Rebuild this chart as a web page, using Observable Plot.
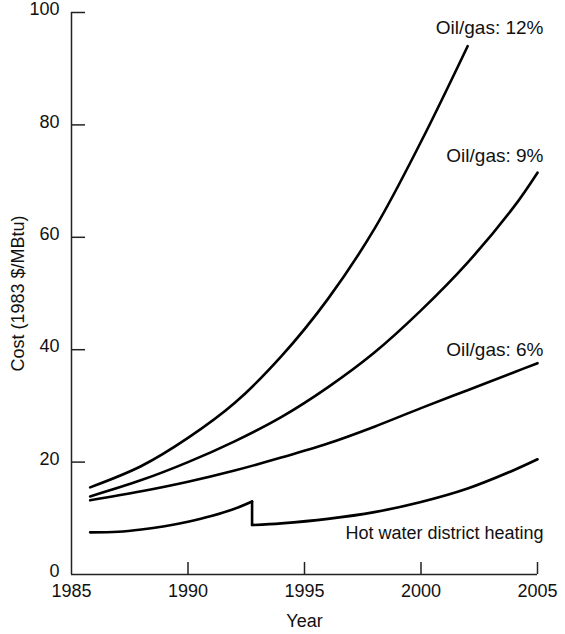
<!DOCTYPE html>
<html>
<head>
<meta charset="utf-8">
<script src="https://cdn.jsdelivr.net/npm/d3@7"></script>
<script src="https://cdn.jsdelivr.net/npm/@observablehq/plot@0.6"></script>
<style>
  html, body { margin: 0; padding: 0; background: #fff; }
  #chart svg { display: block; }
</style>
</head>
<body>
<div id="chart"></div>
<script>
// ---- Data ----
const oil12Years = [1985.8, 1988, 1990, 1992, 1994, 1996, 1998, 2000, 2002];
const oil12Cost  = [15.5, 19.3, 24.3, 30.5, 38.8, 49, 61.5, 77, 94];

const oil9Years = [1985.8, 1988, 1990, 1992, 1994, 1996, 1998, 2000, 2002, 2004, 2005];
const oil9Cost  = [13.9, 16.8, 20.0, 23.7, 28.0, 33.3, 39.5, 47.0, 55.5, 65.5, 71.5];

const oil6Years = [1985.8, 1988, 1990, 1992, 1994, 1996, 1998, 2000, 2002, 2004, 2005];
const oil6Cost  = [13.2, 14.8, 16.5, 18.5, 20.8, 23.3, 26.3, 29.6, 32.8, 36.0, 37.6];

// Hot water district heating: rises, then drops abruptly late 1992
const hwPreYears  = [1985.8, 1987, 1988, 1989, 1990, 1991, 1992, 1992.75];
const hwPreCost   = [7.5, 7.6, 8.0, 8.6, 9.4, 10.4, 11.7, 13.0];
const hwDropYears = [1992.75, 1992.75];
const hwDropCost  = [13.0, 8.8];
const hwPostYears = [1992.75, 1994, 1996, 1998, 2000, 2002, 2004, 2005];
const hwPostCost  = [8.8, 9.1, 9.9, 11.1, 12.9, 15.3, 18.6, 20.5];

const labelNames = ["Oil/gas: 12%", "Oil/gas: 9%", "Oil/gas: 6%", "Hot water district heating"];
const labelYears = [2005, 2005, 2005, 2005];
const labelCost  = [97.2, 74.4, 40.0, 7.3];
const labelSizes = [19, 19, 19, 18];

const xTicks = [1985, 1990, 1995, 2000, 2005];
const yTicks = [0, 20, 40, 60, 80, 100];

// ---- Build tables ----
function rows(name, xs, ys) { return xs.map((x, i) => ({series: name, year: x, cost: ys[i]})); }
const lines = [
  ...rows("oil12", oil12Years, oil12Cost),
  ...rows("oil9", oil9Years, oil9Cost),
  ...rows("oil6", oil6Years, oil6Cost),
  ...rows("hwPre", hwPreYears, hwPreCost),
  ...rows("hwDrop", hwDropYears, hwDropCost),
  ...rows("hwPost", hwPostYears, hwPostCost)
];
const labels = labelNames.map((t, i) => ({text: t, year: labelYears[i], cost: labelCost[i], size: labelSizes[i]}));

const font = "'Liberation Sans', Arial, Helvetica, sans-serif";

const chart = Plot.plot({
  width: 565,
  height: 634,
  marginLeft: 71,
  marginRight: 28,
  marginTop: 12,
  marginBottom: 60,
  style: {fontFamily: font, fontSize: "18px", color: "#111", background: "#fff"},
  x: {domain: [1985, 2005]},
  y: {domain: [0, 100]},
  marks: [
    // tick labels and axis titles
    Plot.axisX({ticks: xTicks, tickSize: 0, tickPadding: 10, tickFormat: d => String(d),
      label: "Year", labelAnchor: "center", labelArrow: "none", labelOffset: 52, fontSize: 18}),
    Plot.axisY({ticks: yTicks, tickSize: 0, tickPadding: 12, dy: -3, tickFormat: d => String(d),
      label: null, fontSize: 18}),
    Plot.axisY({ticks: [], tickSize: 0, label: "Cost (1983 $/MBtu)", labelAnchor: "center", labelArrow: "none", labelOffset: 60, fontSize: 18}),
    // inward tick marks
    Plot.axisX({ticks: xTicks.filter(d => d !== 1985), tickSize: -12, tickFormat: null, label: null, text: null, stroke: "#222", strokeWidth: 1.5}),
    Plot.axisY({ticks: yTicks.filter(d => d !== 0), tickSize: -14, tickFormat: null, label: null, text: null, stroke: "#222", strokeWidth: 1.5}),
    // axis lines
    Plot.ruleX([1985], {stroke: "#222", strokeWidth: 1.5}),
    Plot.ruleY([0], {stroke: "#222", strokeWidth: 1.5}),
    // curves
    Plot.line(lines, {x: "year", y: "cost", z: "series", curve: "catmull-rom", stroke: "#000", strokeWidth: 2.6, strokeLinejoin: "miter"}),
    // curve labels
    Plot.text(labels, {x: "year", y: "cost", text: "text", textAnchor: "end", dx: 6, fontSize: "size", fill: "#111"})
  ]
});

document.getElementById("chart").appendChild(chart);
</script>
</body>
</html>
